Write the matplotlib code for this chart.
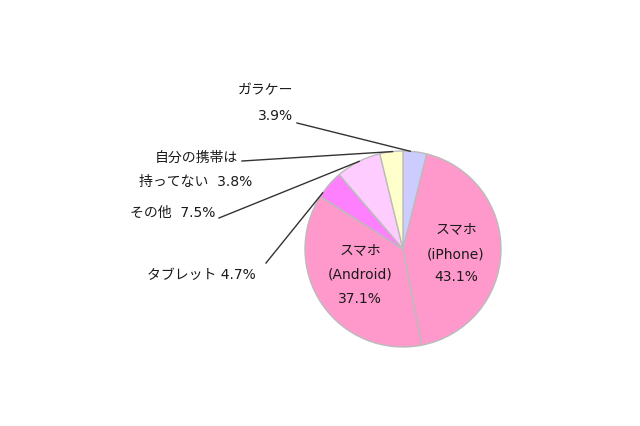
import numpy as np
import matplotlib.pyplot as plt

plt.rcParams['font.family'] = ['DejaVu Sans', 'Noto Sans CJK JP']

# data: clockwise from 12 o'clock
labels = ["ガラケー", "スマホ (iPhone)", "スマホ (Android)", "タブレット", "その他", "自分の携帯は持ってない"]
shares = [3.9, 43.1, 37.1, 4.7, 7.5, 3.8]
colors = ["#ccccff", "#ff99cc", "#ff99cc", "#ff80ff", "#ffccff", "#ffffcc"]

W, H = 640, 426
cx, cy, r = 403, H - 249, 98

fig = plt.figure(figsize=(6.4, 4.26), dpi=100)
ax = fig.add_axes([0, 0, 1, 1])

wedges, _ = ax.pie(shares, colors=colors, startangle=90, counterclock=False,
                   center=(cx, cy), radius=r, frame=True,
                   wedgeprops=dict(edgecolor="#bbbbbb", linewidth=1))
ax.set_xlim(0, W)
ax.set_ylim(0, H)
ax.axis("off")

fs = 10
tc = "#1a1a1a"
lc = "#333333"


def txt(x, y, s, ha="center"):
    ax.text(x, H - y, s, ha=ha, va="center", fontsize=fs, color=tc)


def edge_point(w, frac=0.5):
    a = np.deg2rad(w.theta1 + (w.theta2 - w.theta1) * frac)
    return cx + r * np.cos(a), cy + r * np.sin(a)


# inside labels
for i, y in zip(range(3), [229, 254, 277]):
    txt(456, y, ["スマホ", "(iPhone)", f"{shares[1]}%"][i])
for i, y in zip(range(3), [250, 275, 299]):
    txt(360, y, ["スマホ", "(Android)", f"{shares[2]}%"][i])

# outside labels with leader lines
txt(293, 90, "ガラケー", ha="right")
txt(293, 116, f"{shares[0]}%", ha="right")
px, py = edge_point(wedges[0], 0.7)
ax.plot([297, px], [H - 123, py], color=lc, lw=1)

txt(238, 158, "自分の携帯は", ha="right")
txt(252, 182, f"持ってない  {shares[5]}%", ha="right")
px, py = edge_point(wedges[5], 0.45)
ax.plot([242, px], [H - 161, py], color=lc, lw=1)

txt(215, 213, f"その他  {shares[4]}%", ha="right")
px, py = edge_point(wedges[4], 0.48)
ax.plot([219, px], [H - 218, py], color=lc, lw=1)

txt(256, 275, f"タブレット {shares[3]}%", ha="right")
px, py = edge_point(wedges[3], 0.85)
ax.plot([266, px], [H - 263, py], color=lc, lw=1)

fig.savefig("out.png", dpi=100, facecolor="white")
